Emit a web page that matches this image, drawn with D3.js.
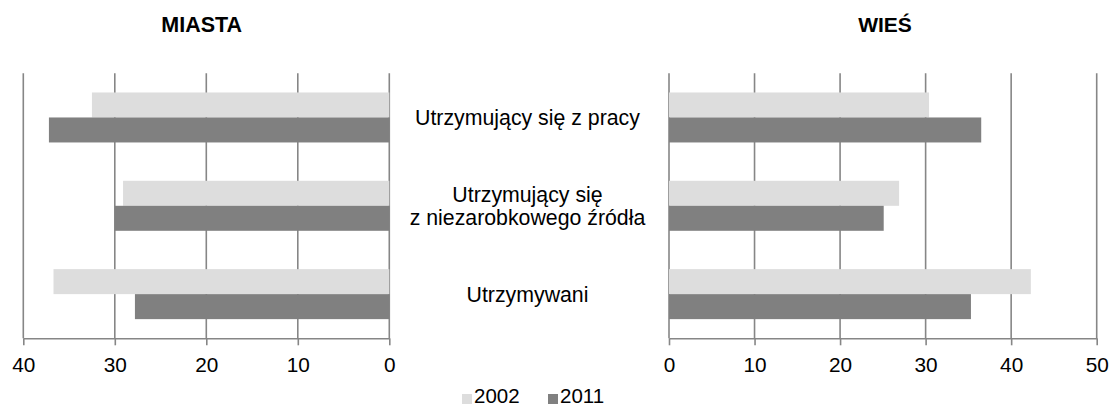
<!DOCTYPE html>
<html>
<head>
<meta charset="utf-8">
<script src="https://cdn.jsdelivr.net/npm/d3@7"></script>
<style>
  html, body { margin: 0; padding: 0; background: #fff; }
  svg { display: block; font-family: "Liberation Sans", Arial, sans-serif; }
</style>
</head>
<body>
<svg id="chart" width="1110" height="406"></svg>
<script>
const categories = [
  ["Utrzymujący się z pracy"],
  ["Utrzymujący się", "z niezarobkowego źródła"],
  ["Utrzymywani"]
];
const series = ["2002", "2011"];
const colors = ["#dddddd", "#808080"];
const miasta2002 = [32.5, 29.1, 36.7];
const miasta2011 = [37.2, 30.0, 27.8];
const wies2002 = [30.4, 26.9, 42.3];
const wies2011 = [36.5, 25.1, 35.3];
const leftTicks = [0, 10, 20, 30, 40];
const rightTicks = [0, 10, 20, 30, 40, 50];

const svg = d3.select("#chart");
const plotTop = 73.3, plotBottom = 338.3;
const catIdx = d3.range(categories.length);

const y0 = d3.scaleBand().domain(catIdx).range([plotTop, plotBottom])
  .paddingInner(0.434).paddingOuter(0.217);
const y1 = d3.scaleBand().domain(series).range([0, y0.bandwidth()]).padding(0);

const xL = d3.scaleLinear().domain([0, 40]).range([389.3, 23.3]);
const xR = d3.scaleLinear().domain([0, 50]).range([669, 1096.7]);

const gridColor = "#868686";

function panel(x, ticks, data, leftSide) {
  const g = svg.append("g");
  g.selectAll("line.grid").data(ticks).join("line")
    .attr("class", "grid")
    .attr("x1", d => x(d)).attr("x2", d => x(d))
    .attr("y1", plotTop).attr("y2", plotBottom)
    .attr("stroke", gridColor).attr("stroke-width", 1.6);
  series.forEach((s, si) => {
    g.selectAll("rect.s" + si).data(data[si]).join("rect")
      .attr("class", "s" + si)
      .attr("x", d => leftSide ? x(d) : x(0))
      .attr("width", d => Math.abs(x(d) - x(0)))
      .attr("y", (d, i) => y0(i) + y1(s))
      .attr("height", y1.bandwidth())
      .attr("fill", colors[si]);
  });
  const ax = g.append("g").attr("transform", `translate(0,${plotBottom})`)
    .call(d3.axisBottom(x).tickValues(ticks).tickSize(7).tickSizeOuter(0).tickFormat(d3.format("d")));
  ax.select(".domain").attr("stroke", gridColor).attr("stroke-width", 1.6);
  ax.selectAll(".tick line").attr("stroke", gridColor).attr("stroke-width", 1.6);
  ax.selectAll(".tick text").attr("y", 34).attr("dy", 0)
    .attr("font-size", 20.8).attr("fill", "#000")
    .attr("font-family", '"Liberation Sans", Arial, sans-serif');
}

panel(xL, leftTicks, [miasta2002, miasta2011], true);
panel(xR, rightTicks, [wies2002, wies2011], false);

svg.append("text").attr("x", 201.7).attr("y", 32).attr("text-anchor", "middle")
  .attr("font-size", 21.5).attr("font-weight", "bold").text("MIASTA");
svg.append("text").attr("x", 885).attr("y", 32).attr("text-anchor", "middle")
  .attr("font-size", 21).attr("font-weight", "bold").text("WIEŚ");

const lineH = 23;
categories.forEach((lines, i) => {
  const cy = y0(i) + y0.bandwidth() / 2;
  const t = svg.append("text").attr("text-anchor", "middle").attr("font-size", 21.3).attr("fill", "#000");
  const n = lines.length;
  lines.forEach((ln, j) => {
    t.append("tspan").attr("x", 527.5)
      .attr("y", cy + 7.5 + (j - (n - 1) / 2) * lineH)
      .text(ln);
  });
});

const legX = [462, 548];
series.forEach((s, i) => {
  svg.append("rect").attr("x", legX[i]).attr("y", 394).attr("width", 10).attr("height", 10).attr("fill", colors[i]);
  svg.append("text").attr("x", legX[i] + 12).attr("y", 403).attr("font-size", 20.5).attr("fill", "#000").text(s);
});
</script>
</body>
</html>
